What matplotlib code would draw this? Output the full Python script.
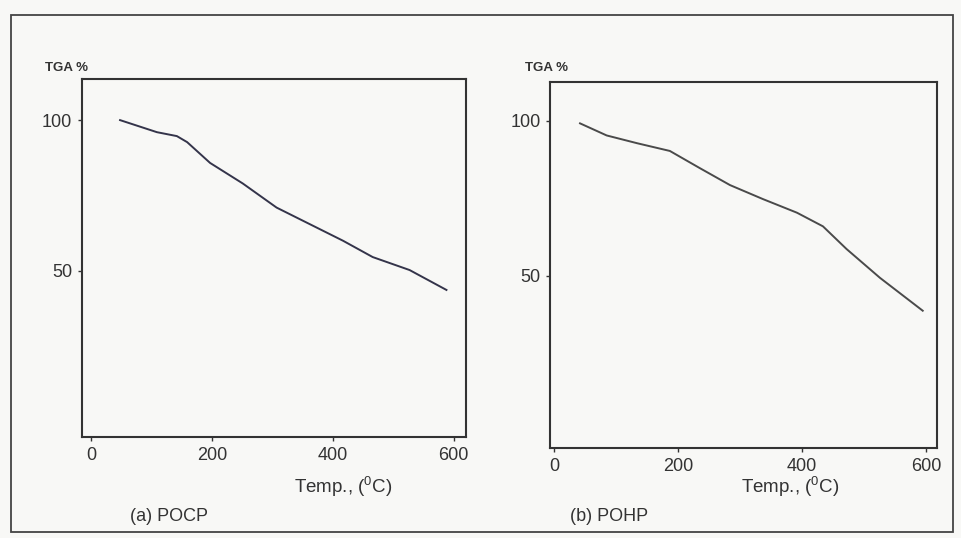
import numpy as np
import matplotlib
matplotlib.use('Agg')
import matplotlib.pyplot as plt
from matplotlib.patches import Rectangle

plt.rcParams['font.family'] = ['Liberation Sans', 'DejaVu Sans']

# (a) POCP
pocp_temp = [48, 109, 142, 159, 197, 251, 307, 367, 417, 466, 527, 588]
pocp_tga = [100, 96, 94.7, 92.7, 85.8, 79, 71, 65, 60, 54.6, 50.3, 43.7]

# (b) POHP
pohp_temp = [42, 85, 134, 187, 235, 284, 337, 392, 434, 472, 526, 595]
pohp_tga = [99.2, 95.3, 92.8, 90.3, 84.8, 79.3, 74.8, 70.4, 66, 58.7, 49.4, 38.8]

x_ticks = [0, 200, 400, 600]
y_ticks = [50, 100]

bg = '#f8f8f6'
fig = plt.figure(figsize=(9.62, 5.38), dpi=100, facecolor=bg)

# outer frame of the scanned figure
fig.patches.append(Rectangle((0.011, 0.012), 0.980, 0.960, transform=fig.transFigure,
                             fill=False, edgecolor='#444444', linewidth=1.3))

ax1 = fig.add_axes([0.0852, 0.188, 0.399, 0.665])
ax2 = fig.add_axes([0.572, 0.167, 0.402, 0.681])

panels = [
    (ax1, pocp_temp, pocp_tga, '#34344a', (-15, 620), (-5, 113.6), '(a) POCP', 0.047, 0.357, 0.176),
    (ax2, pohp_temp, pohp_tga, '#4a4a4a', (-6, 618), (-5.5, 112.6), '(b) POHP', 0.546, 0.821, 0.633),
]

for ax, t, w, col, xl, yl, name, tx, lx, nx in panels:
    ax.set_facecolor(bg)
    ax.plot(t, w, color=col, linewidth=1.4)
    ax.set_xlim(*xl)
    ax.set_ylim(*yl)
    ax.set_xticks(x_ticks)
    ax.set_yticks(y_ticks)
    ax.tick_params(axis='both', labelsize=13, length=3, width=1, colors='#333333', pad=4)
    for s in ax.spines.values():
        s.set_linewidth(1.5)
        s.set_color('#333333')
    fig.text(tx, 0.868, 'TGA %', fontsize=9.5, fontweight='bold', color='#333333')
    fig.text(lx, 0.084, r'Temp., ($^\mathregular{0}$C)', fontsize=13.5, ha='center', color='#333333')
    fig.text(nx, 0.032, name, fontsize=13, ha='center', color='#333333')

plt.savefig('out.png', dpi=100, facecolor=bg)
